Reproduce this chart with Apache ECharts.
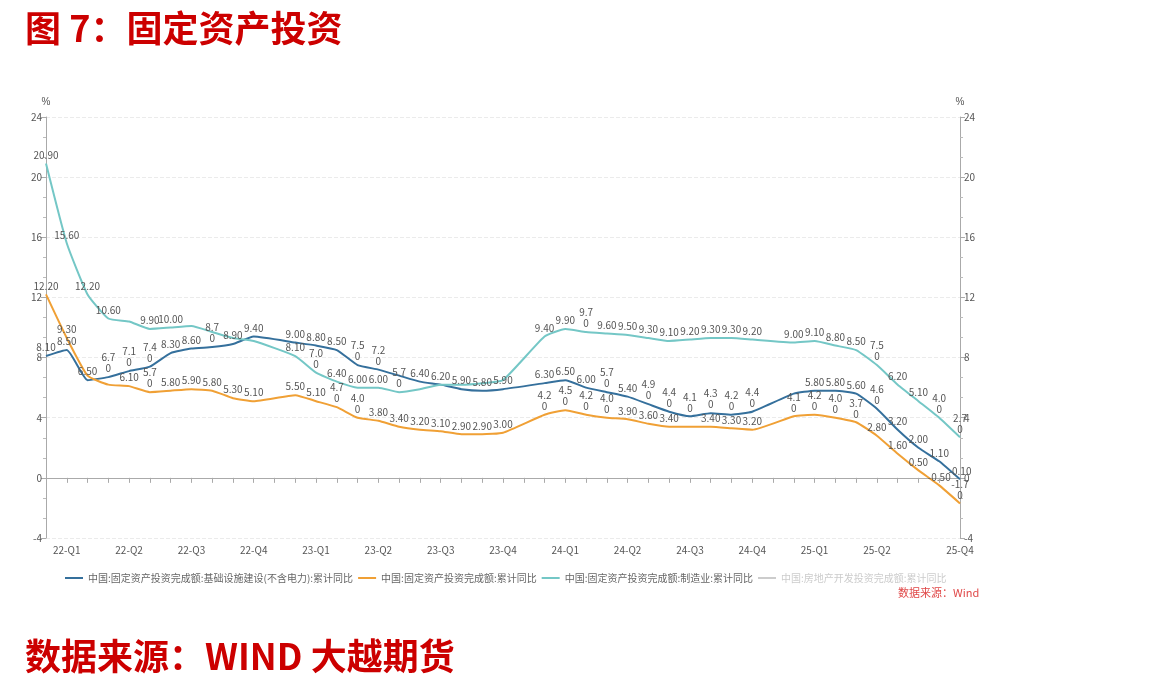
<!DOCTYPE html>
<html>
<head>
<meta charset="utf-8">
<script src="https://cdn.jsdelivr.net/npm/echarts@6/dist/echarts.min.js"></script>
<style>
html, body { margin: 0; padding: 0; background: #fff; }
#chart { width: 1164px; height: 690px; }
</style>
</head>
<body>
<div id="chart"></div>
<script>
// 月度（1月无数据）
var months = [
    '2022-02', '2022-03', '2022-04', '2022-05', '2022-06', '2022-07', '2022-08', '2022-09', '2022-10', '2022-11', '2022-12',
    '2023-01', '2023-02', '2023-03', '2023-04', '2023-05', '2023-06', '2023-07', '2023-08', '2023-09', '2023-10', '2023-11', '2023-12',
    '2024-01', '2024-02', '2024-03', '2024-04', '2024-05', '2024-06', '2024-07', '2024-08', '2024-09', '2024-10', '2024-11', '2024-12',
    '2025-01', '2025-02', '2025-03', '2025-04', '2025-05', '2025-06', '2025-07', '2025-08', '2025-09', '2025-10'
];
var infraName = '中国:固定资产投资完成额:基础设施建设(不含电力):累计同比';
var totalName = '中国:固定资产投资完成额:累计同比';
var manuName = '中国:固定资产投资完成额:制造业:累计同比';
var estateName = '中国:房地产开发投资完成额:累计同比';

var infraValues = [8.1, 8.5, 6.5, 6.7, 7.1, 7.4, 8.3, 8.6, 8.7, 8.9, 9.4,
    null, 9.0, 8.8, 8.5, 7.5, 7.2, 6.8, 6.4, 6.2, 5.9, 5.8, 5.9,
    null, 6.3, 6.5, 6.0, 5.7, 5.4, 4.9, 4.4, 4.1, 4.3, 4.2, 4.4,
    null, 5.6, 5.8, 5.8, 5.6, 4.6, 3.2, 2.0, 1.1, -0.1];
var totalValues = [12.2, 9.3, 6.8, 6.2, 6.1, 5.7, 5.8, 5.9, 5.8, 5.3, 5.1,
    null, 5.5, 5.1, 4.7, 4.0, 3.8, 3.4, 3.2, 3.1, 2.9, 2.9, 3.0,
    null, 4.2, 4.5, 4.2, 4.0, 3.9, 3.6, 3.4, 3.4, 3.4, 3.3, 3.2,
    null, 4.1, 4.2, 4.0, 3.7, 2.8, 1.6, 0.5, -0.5, -1.7];
var manuValues = [20.9, 15.6, 12.2, 10.6, 10.4, 9.9, 10.0, 10.1, 9.7, 9.3, 9.1,
    null, 8.1, 7.0, 6.4, 6.0, 6.0, 5.7, 5.9, 6.2, 6.2, 6.3, 6.5,
    null, 9.4, 9.9, 9.7, 9.6, 9.5, 9.3, 9.1, 9.2, 9.3, 9.3, 9.2,
    null, 9.0, 9.1, 8.8, 8.5, 7.5, 6.2, 5.1, 4.0, 2.7];
var estateValues = [3.7, 0.7, -2.7, -4.0, -5.4, -6.4, -7.4, -8.0, -8.8, -9.8, -10.0,
    null, -5.7, -5.8, -6.2, -7.2, -7.9, -8.5, -8.8, -9.1, -9.3, -9.4, -9.6,
    null, -9.0, -9.5, -9.8, -10.1, -10.1, -10.2, -10.2, -10.1, -10.3, -10.4, -10.6,
    null, -9.8, -9.9, -10.3, -10.7, -11.2, -12.0, -12.9, -13.9, -14.7];

// 数据标签：被遮挡隐藏的点 / 换行显示的点（按月份序号）
var infraHide = [17, 36];
var infraWrap = [3, 4, 5, 8, 15, 16, 27, 29, 30, 31, 32, 33, 34, 40];
var totalHide = [2, 3, 31];
var totalWrap = [5, 14, 15, 24, 25, 26, 27, 36, 37, 38, 39, 44];
var manuHide = [4, 7, 8, 9, 10, 18, 19, 20, 21, 22];
var manuWrap = [13, 17, 26, 40, 43, 44];

var red = '#cc0000';
var fontCN = '"Noto Sans CJK SC", "Noto Sans", sans-serif';

function buildData(values, hide) {
    return values.map(function (v, i) {
        if (v == null) return null;
        return { value: v, label: { show: hide.indexOf(i) < 0 } };
    });
}

function lineSeries(name, values, color, hide, wrap) {
    return {
        name: name,
        type: 'line',
        data: buildData(values, hide),
        smooth: 0.15,
        connectNulls: true,
        symbol: 'circle',
        symbolSize: 0.01,
        showSymbol: true,
        lineStyle: { color: color, width: 2 },
        itemStyle: { color: color },
        label: {
            show: true,
            position: 'top',
            distance: 3,
            color: '#555',
            fontSize: 10,
            lineHeight: 11,
            fontFamily: fontCN,
            formatter: function (p) {
                var s = Number(p.value).toFixed(2);
                if (wrap.indexOf(p.dataIndex) >= 0) {
                    return s.slice(0, -1) + '\n' + s.slice(-1);
                }
                return s;
            }
        },
        emphasis: { disabled: true }
    };
}

var yAxisBase = {
    type: 'value',
    min: -4,
    max: 24,
    interval: 4,
    name: '%',
    nameGap: 10,
    nameTextStyle: { color: '#555', fontSize: 10, align: 'center' },
    axisLine: { show: true, lineStyle: { color: '#aaa' } },
    axisTick: { show: true, length: 5, lineStyle: { color: '#aaa' } },
    minorTick: { show: true, splitNumber: 3, length: 3, lineStyle: { color: '#bbb' } },
    axisLabel: { color: '#555', fontSize: 10, margin: 4, fontFamily: fontCN }
};

var option = {
    backgroundColor: '#fff',
    animation: false,
    grid: { left: 46, right: 204, top: 117, bottom: 152 },
    title: [{
        text: '图 7：固定资产投资',
        left: 20,
        top: 5,
        textStyle: { color: red, fontSize: 36, fontWeight: 'bold', fontFamily: fontCN }
    }, {
        text: '数据来源：WIND 大越期货',
        left: 20,
        top: 633,
        textStyle: { color: red, fontSize: 36, fontWeight: 'bold', fontFamily: fontCN }
    }, {
        text: '数据来源：Wind',
        left: 893,
        top: 582,
        textStyle: { color: '#e04848', fontSize: 11, fontWeight: 'normal', fontFamily: fontCN }
    }],
    legend: {
        data: [infraName, totalName, manuName, estateName],
        selected: (function () { var s = {}; s[estateName] = false; return s; })(),
        left: 60,
        top: 568,
        icon: 'rect',
        itemWidth: 18,
        itemHeight: 2,
        itemGap: 5,
        inactiveColor: '#ccc',
        textStyle: { color: '#666', fontSize: 10, fontFamily: fontCN }
    },
    xAxis: {
        type: 'category',
        data: months,
        boundaryGap: false,
        axisLine: { show: true, lineStyle: { color: '#aaa' } },
        axisTick: { show: true, interval: 0, length: 5, lineStyle: { color: '#aaa' } },
        axisLabel: {
            color: '#555',
            fontSize: 10,
            margin: 7,
            fontFamily: fontCN,
            interval: function (i, v) {
                var m = +v.slice(5);
                if (i === 0 || i === months.length - 1) return true;
                if (v === '2025-09') return false;
                return m % 3 === 0;
            },
            formatter: function (v) {
                return v.slice(2, 4) + '-Q' + Math.ceil(+v.slice(5) / 3);
            }
        },
        splitLine: { show: false }
    },
    yAxis: [
        Object.assign({}, yAxisBase, {
            position: 'left',
            splitLine: { show: true, lineStyle: { color: '#ebebeb', type: 'dashed' } }
        }),
        Object.assign({}, yAxisBase, {
            position: 'right',
            splitLine: { show: false }
        })
    ],
    series: [
        lineSeries(infraName, infraValues, '#35709c', infraHide, infraWrap),
        lineSeries(totalName, totalValues, '#f0a035', totalHide, totalWrap),
        lineSeries(manuName, manuValues, '#74c7c6', manuHide, manuWrap),
        lineSeries(estateName, estateValues, '#c8c8c8', [], [])
    ]
};

var myChart = echarts.init(document.getElementById('chart'));
myChart.setOption(option);
window.onresize = function () {
    myChart.resize();
};
</script>
</body>
</html>
